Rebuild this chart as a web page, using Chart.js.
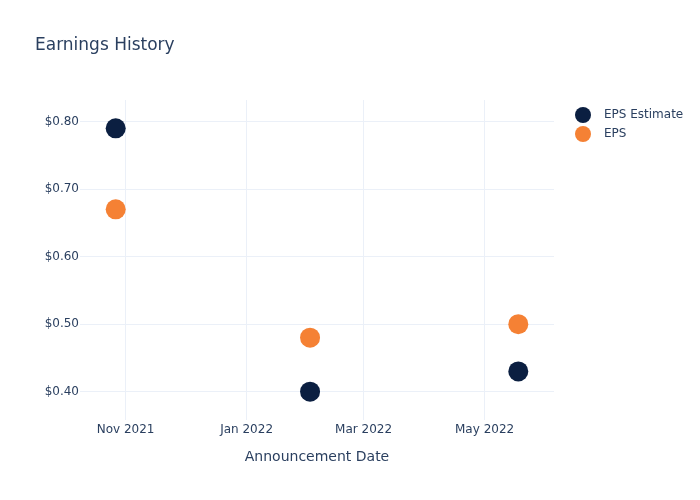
<!DOCTYPE html>
<html>
<head>
<meta charset="utf-8">
<script src="https://cdn.jsdelivr.net/npm/chart.js@4.4.1/dist/chart.umd.min.js"></script>
<style>
    body { margin: 0; background: #fff; font-family: "DejaVu Sans", sans-serif; }
    #wrap { position: relative; width: 700px; height: 500px; }
    #title { position: absolute; left: 35px; top: 33px; font-size: 17px; line-height: 22px; color: #2a3f5f; }
    #legend { position: absolute; left: 575px; top: 105px; font-size: 12px; color: #2a3f5f; }
    .item { height: 19px; line-height: 19px; display: flex; align-items: center; }
    .dot { width: 16px; height: 16px; border-radius: 50%; margin-right: 13px; }
</style>
</head>
<body>
<div id="wrap">
    <canvas id="chart" width="700" height="500"></canvas>
    <div id="title">Earnings History</div>
    <div id="legend"></div>
</div>
<script>
// datos del gráfico
const announceDates = ['2021-10-27', '2022-02-02', '2022-05-18'];
const epsEstimate = [0.79, 0.40, 0.43];
const epsActual = [0.67, 0.48, 0.50];
const seriesNames = ['EPS Estimate', 'EPS'];
const seriesColors = ['#0b1f41', '#f58134'];
const xTickDates = ['2021-11-01', '2022-01-01', '2022-03-01', '2022-05-01'];
const xTickLabels = ['Nov 2021', 'Jan 2022', 'Mar 2022', 'May 2022'];
const yTickValues = [0.40, 0.50, 0.60, 0.70, 0.80];

(function() {
    const inkColor = '#2a3f5f';
    const gridColor = '#ebf0f8';
    const toTime = d => Date.parse(d + 'T00:00:00Z');

    function puntos(values) {
        return announceDates.map((d, i) => ({ x: toTime(d), y: values[i] }));
    }

    const datasets = [epsEstimate, epsActual].map((vals, i) => ({
        label: seriesNames[i],
        data: puntos(vals),
        backgroundColor: seriesColors[i],
        borderWidth: 0,
        pointRadius: 10,
        pointHoverRadius: 10
    }));

    new Chart(document.getElementById('chart'), {
        type: 'scatter',
        data: { datasets: datasets },
        options: {
            responsive: false,
            animation: false,
            layout: { padding: { left: 0, top: 100, right: 146, bottom: 0 } },
            plugins: { legend: { display: false }, tooltip: { enabled: false } },
            scales: {
                x: {
                    type: 'linear',
                    min: toTime('2021-10-09'),
                    max: toTime('2022-06-05'),
                    afterBuildTicks: s => { s.ticks = xTickDates.map(d => ({ value: toTime(d) })); },
                    afterFit: s => { s.height = 80; },
                    ticks: {
                        color: inkColor,
                        font: { family: 'DejaVu Sans', size: 12 },
                        padding: 3,
                        maxRotation: 0,
                        callback: v => xTickLabels[xTickDates.map(toTime).indexOf(v)]
                    },
                    grid: { color: gridColor, drawTicks: false },
                    border: { display: false },
                    title: {
                        display: true,
                        text: 'Announcement Date',
                        color: inkColor,
                        font: { family: 'DejaVu Sans', size: 14 },
                        padding: { top: 0, bottom: 34 }
                    }
                },
                y: {
                    min: 0.358,
                    max: 0.832,
                    afterBuildTicks: s => { s.ticks = yTickValues.map(v => ({ value: v })); },
                    afterFit: s => { s.width = 80; },
                    ticks: {
                        color: inkColor,
                        font: { family: 'DejaVu Sans', size: 12 },
                        padding: 1,
                        callback: v => '$' + v.toFixed(2)
                    },
                    grid: { color: gridColor, drawTicks: false },
                    border: { display: false }
                }
            }
        }
    });

    // leyenda en HTML
    const legend = document.getElementById('legend');
    seriesNames.forEach((name, i) => {
        const item = document.createElement('div');
        item.className = 'item';
        item.innerHTML = '<span class="dot" style="background:' + seriesColors[i] + '"></span>' + name;
        legend.appendChild(item);
    });
})();
</script>
</body>
</html>
